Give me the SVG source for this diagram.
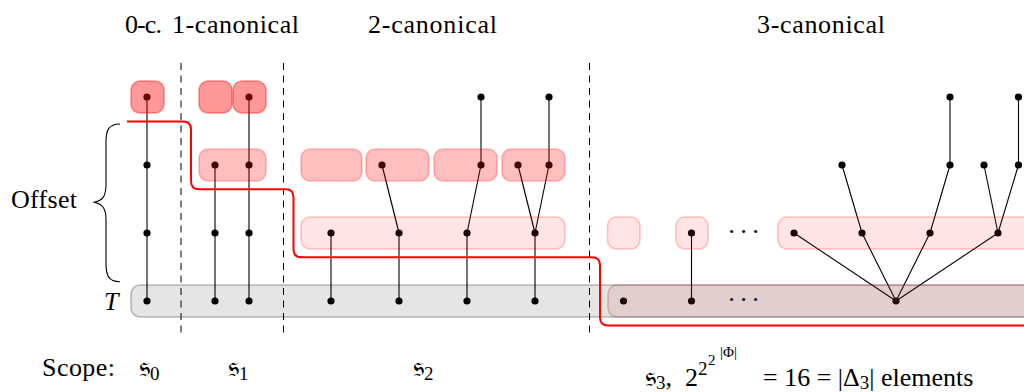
<svg xmlns="http://www.w3.org/2000/svg" width="1024" height="392" viewBox="0 0 1024 392">
<style>
.t{font-family:"Liberation Serif","DejaVu Serif",serif;font-size:26px;fill:#000}
.s1{font-size:19px}
.s2{font-size:15px}
.fk{font-size:30px}
.dash{stroke:#000;stroke-width:1;stroke-dasharray:7 5.5;fill:none}
.e{stroke:#000;stroke-width:1.1;fill:none}
.d{fill:#000}
.b0{fill:#f00;fill-opacity:.4;stroke:#f00;stroke-opacity:.4;stroke-width:1.6}
.b1{fill:#f00;fill-opacity:.25;stroke:#f00;stroke-opacity:.25;stroke-width:1.6}
.b2{fill:#f00;fill-opacity:.1;stroke:#f00;stroke-opacity:.22;stroke-width:1.6}
.bg{fill:#000;fill-opacity:.1;stroke:#000;stroke-opacity:.25;stroke-width:1.6}
.bb{fill:#c85050;fill-opacity:.15;stroke:#a04040;stroke-opacity:.3;stroke-width:1.6}
.red{stroke:#f00;stroke-width:2;fill:none}
</style>
<g id="separators">
<line class="dash" x1="181" y1="63" x2="181" y2="337"/>
<line class="dash" x1="283.5" y1="63" x2="283.5" y2="337"/>
<line class="dash" x1="589.5" y1="63" x2="589.5" y2="337"/>
</g>
<g id="connectors">
<line class="e" x1="147" y1="97" x2="147" y2="301"/>
<line class="e" x1="215" y1="165" x2="215" y2="301"/>
<line class="e" x1="249" y1="97" x2="249" y2="301"/>
<line class="e" x1="331" y1="233" x2="331" y2="301"/>
<line class="e" x1="399" y1="233" x2="399" y2="301"/>
<line class="e" x1="382" y1="165" x2="399" y2="233"/>
<line class="e" x1="467" y1="233" x2="467" y2="301"/>
<line class="e" x1="481" y1="165" x2="467" y2="233"/>
<line class="e" x1="481" y1="97" x2="481" y2="165"/>
<line class="e" x1="535" y1="233" x2="535" y2="301"/>
<line class="e" x1="518" y1="165" x2="535" y2="233"/>
<line class="e" x1="549" y1="165" x2="535" y2="233"/>
<line class="e" x1="549" y1="97" x2="549" y2="165"/>
<line class="e" x1="691.5" y1="233" x2="691.5" y2="301"/>
<line class="e" x1="794" y1="233" x2="896" y2="301"/>
<line class="e" x1="862" y1="233" x2="896" y2="301"/>
<line class="e" x1="930" y1="233" x2="896" y2="301"/>
<line class="e" x1="998" y1="233" x2="896" y2="301"/>
<line class="e" x1="842" y1="165" x2="862" y2="233"/>
<line class="e" x1="950" y1="165" x2="930" y2="233"/>
<line class="e" x1="950" y1="97" x2="950" y2="165"/>
<line class="e" x1="984" y1="165" x2="998" y2="233"/>
<line class="e" x1="1018.5" y1="165" x2="998" y2="233"/>
<line class="e" x1="1018.5" y1="97" x2="1018.5" y2="165"/>
</g>
<g id="T-row">
<circle class="d" cx="147" cy="301" r="3.6"/><circle class="d" cx="215" cy="301" r="3.6"/><circle class="d" cx="249" cy="301" r="3.6"/>
<circle class="d" cx="331" cy="301" r="3.6"/><circle class="d" cx="399" cy="301" r="3.6"/><circle class="d" cx="467" cy="301" r="3.6"/><circle class="d" cx="535" cy="301" r="3.6"/>
<rect class="bg" x="131" y="285" width="930" height="32" rx="9"/>
</g>
<g id="T3-row">
<circle class="d" cx="623.5" cy="301" r="3.6"/><circle class="d" cx="691.5" cy="301" r="3.6"/><circle class="d" cx="896" cy="301" r="3.6"/>
<rect class="bb" x="608" y="285" width="450" height="32" rx="9"/>
<text class="t" x="731.7 743.7 755.7" y="307.5" text-anchor="middle">···</text>
</g>
<g id="c0-row1"><circle class="d" cx="147" cy="233" r="3.6"/><circle class="d" cx="147" cy="165" r="3.6"/></g>
<g id="c0-top"><circle class="d" cx="147" cy="97" r="3.6"/><rect class="b0" x="131" y="81" width="33" height="32" rx="9"/></g>
<g id="c1-top-a"><rect class="b0" x="199" y="81" width="33" height="32" rx="9"/></g>
<g id="c1-top-b"><circle class="d" cx="249" cy="97" r="3.6"/><rect class="b0" x="233" y="81" width="33" height="32" rx="9"/></g>
<g id="c1-row2"><circle class="d" cx="215" cy="165" r="3.6"/><circle class="d" cx="249" cy="165" r="3.6"/><rect class="b1" x="199" y="149" width="67" height="32" rx="9"/></g>
<g id="c1-row1"><circle class="d" cx="215" cy="233" r="3.6"/><circle class="d" cx="249" cy="233" r="3.6"/></g>
<g id="c2-row2-a"><rect class="b1" x="301" y="149" width="61" height="32" rx="9"/></g>
<g id="c2-row2-b"><circle class="d" cx="382" cy="165" r="3.6"/><rect class="b1" x="366" y="149" width="63" height="32" rx="9"/></g>
<g id="c2-row2-c"><circle class="d" cx="481" cy="165" r="3.6"/><rect class="b1" x="434" y="149" width="63" height="32" rx="9"/></g>
<g id="c2-row2-d"><circle class="d" cx="518" cy="165" r="3.6"/><circle class="d" cx="549" cy="165" r="3.6"/><rect class="b1" x="502" y="149" width="63" height="32" rx="9"/></g>
<g id="c2-top"><circle class="d" cx="481" cy="97" r="3.6"/><circle class="d" cx="549" cy="97" r="3.6"/></g>
<g id="c2-row1"><circle class="d" cx="331" cy="233" r="3.6"/><circle class="d" cx="399" cy="233" r="3.6"/><circle class="d" cx="467" cy="233" r="3.6"/><circle class="d" cx="535" cy="233" r="3.6"/><rect class="b2" x="301" y="217" width="264" height="32" rx="9"/></g>
<g id="c3-row1-a"><rect class="b2" x="607.5" y="217" width="32.5" height="32" rx="9"/></g>
<g id="c3-row1-b"><circle class="d" cx="691.5" cy="233" r="3.6"/><rect class="b2" x="676" y="217" width="32" height="32" rx="9"/></g>
<g id="c3-row1-dots"><text class="t" x="731.7 743.7 755.7" y="239.5" text-anchor="middle">···</text></g>
<g id="c3-row1-c"><circle class="d" cx="794" cy="233" r="3.6"/><circle class="d" cx="862" cy="233" r="3.6"/><circle class="d" cx="930" cy="233" r="3.6"/><circle class="d" cx="998" cy="233" r="3.6"/><rect class="b2" x="778" y="217" width="280" height="32" rx="9"/></g>
<g id="c3-upper"><circle class="d" cx="842" cy="165" r="3.6"/><circle class="d" cx="950" cy="165" r="3.6"/><circle class="d" cx="984" cy="165" r="3.6"/><circle class="d" cx="1018.5" cy="165" r="3.6"/><circle class="d" cx="950" cy="97" r="3.6"/><circle class="d" cx="1018.5" cy="97" r="3.6"/></g>
<g id="cut-line"><path class="red" d="M127,121.5 H183 Q191,121.5 191,129.5 V181.3 Q191,189.3 199,189.3 H285.5 Q293.5,189.3 293.5,197.3 V249.3 Q293.5,257.3 301.5,257.3 H592 Q600,257.3 600,265.3 V317.5 Q600,325.5 608,325.5 H1030"/></g>
<g id="offset-label">
<path d="M120,124 C108,124 106,131 106,142 V184 C106,196 103,201 93.5,202.3 C103,203.6 106,209 106,220 V263 C106,275 108,281.7 120,281.7" fill="none" stroke="#000" stroke-width="1.1"/>
<text class="t" x="11" y="208" textLength="66">Offset</text>
<text class="t" x="104" y="310" font-style="italic">T</text>
</g>
<g id="headers">
<text class="t" x="125" y="33" textLength="37">0-c.</text>
<text class="t" x="172" y="33" textLength="127">1-canonical</text>
<text class="t" x="368" y="33" textLength="129">2-canonical</text>
<text class="t" x="757" y="33" textLength="128">3-canonical</text>
</g>
<g id="scopes">
<text class="t" x="42" y="376" textLength="73">Scope:</text>
<text class="t" x="139" y="376"><tspan class="fk">𝔰</tspan><tspan class="s1" dy="4">0</tspan></text>
<text class="t" x="228" y="376"><tspan class="fk">𝔰</tspan><tspan class="s1" dy="4">1</tspan></text>
<text class="t" x="413" y="376"><tspan class="fk">𝔰</tspan><tspan class="s1" dy="4">2</tspan></text>
<text class="t" x="645" y="385.5"><tspan class="fk">𝔰</tspan><tspan class="s1" dy="3">3</tspan><tspan dy="-3">,</tspan></text>
<text class="t" x="685" y="385.5">2</text>
<text class="t s1" x="698" y="375">2</text>
<text class="t s2" x="708" y="365">2</text>
<text class="t s2" x="720" y="357">|Φ|</text>
<text class="t" x="763" y="385.5">= 16 = |Δ<tspan class="s1" dy="3">3</tspan><tspan dy="-3">| elements</tspan></text>
</g>
</svg>
